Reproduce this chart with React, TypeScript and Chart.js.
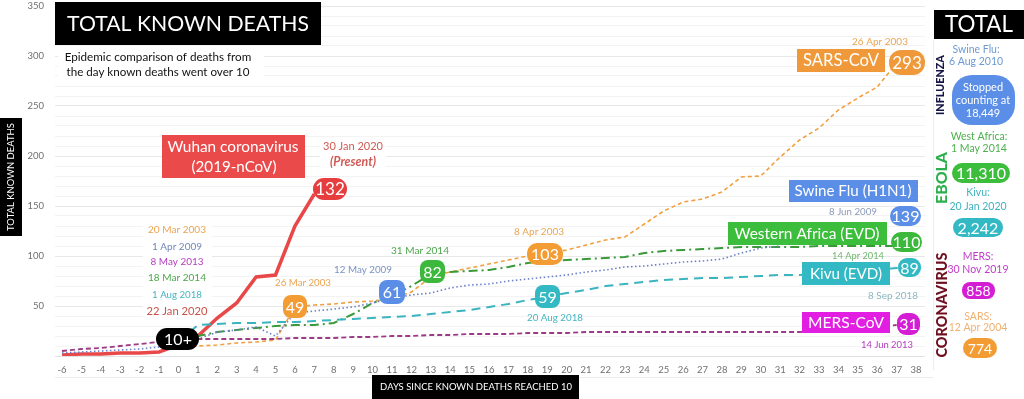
import React, { useEffect, useRef } from 'react';
import { Chart, registerables } from 'chart.js';
Chart.register(...registerables);

// ---- data ----
const dayTicks = [-6,-5,-4,-3,-2,-1,0,1,2,3,4,5,6,7,8,9,10,11,12,13,14,15,16,17,18,19,20,21,22,23,24,25,26,27,28,29,30,31,32,33,34,35,36,37,38];
const yGridValues = [0,10,20,30,40,50,60,70,80,90,100,110,120,130,140,150,160,170,180,190,200,210,220,230,240,250,260,270,280,290,300,310,320,330,340,350];
const yLabelValues = [50,100,150,200,250,300,350];

const wuhanDays = [-6,-5,-4,-3,-2,-1,0,1,2,3,4,5,6,7];
const wuhanDeaths = [1,2,2,3,3,4,11,20,38,53,79,81,130,162];

const sarsDays = [0,1,2,3,4,5,6,7,8,9,10,11,12,13,14,15,16,17,18,19,20,21,22,23,24,25,26,27,28,29,30,31,32,33,34,35,36,37];
const sarsDeaths = [8,10,11,13,14,16,49,51,52,54,55,57,64,79,84,88,92,96,100,103,106,111,116,119,132,145,154,157,164,179,180,199,216,228,246,258,269,293];

const swineDays = [-6,-5,-4,-3,-2,-1,0,1,2,3,4,5,6,7,8,9,10,11,12,13,14,15,16,17,18,19,20,21,22,23,24,25,26,27,28,29,30,31];
const swineDeaths = [3,4,5,6,7,9,12,17,24,26,29,20,43,45,47,49,53,58,61,63,68,71,72,75,77,79,81,84,86,89,90,92,94,95,97,103,108,110];

const mersDays = [-6,-5,-4,-3,-2,-1,0,1,2,3,4,5,6,7,8,9,10,11,12,13,14,15,16,17,18,19,20,21,22,23,24,25,26,27,28,29,30,31,32,33,34,35,36,37];
const mersDeaths = [5,7,8,10,12,14,17,17,17,17,17,17,18,18,18,19,19,20,20,21,21,22,22,22,23,23,23,24,24,24,24,24,24,24,24,24,24,24,24,25,27,28,29,31];

const westAfricaDays = [0,1,2,3,4,5,6,7,8,9,10,11,12,13,14,15,16,17,18,19,20,21,22,23,24,25,26,27,28,29,30,31,32,33,34,35,36,37];
const westAfricaDeaths = [14,20,24,26,28,30,31,31,33,42,53,60,70,82,84,85,86,89,93,95,96,97,98,99,103,105,106,107,108,109,109,109,109,110,110,110,110,110];

const kivuDays = [0,1,2,3,4,5,6,7,8,9,10,11,12,13,14,15,16,17,18,19,20,21,22,23,24,25,26,27,28,29,30,31,32,33,34,35,36,37,38];
const kivuDeaths = [14,31,32,33,33,34,34,35,36,37,38,39,40,42,44,46,49,52,56,59,63,66,70,72,74,76,77,78,78,79,80,81,81,83,84,85,86,88,89];

const pts = (xs: number[], ys: number[]) => xs.map((x, i) => ({ x, y: ys[i] }));

const FONT = 'Lato, "Open Sans", sans-serif';

function rr(ctx: CanvasRenderingContext2D, x: number, y: number, w: number, h: number, r: number, fill: string) {
  ctx.beginPath();
  const rad = Math.min(r, h / 2, w / 2);
  ctx.moveTo(x + rad, y);
  ctx.arcTo(x + w, y, x + w, y + h, rad);
  ctx.arcTo(x + w, y + h, x, y + h, rad);
  ctx.arcTo(x, y + h, x, y, rad);
  ctx.arcTo(x, y, x + w, y, rad);
  ctx.closePath();
  ctx.fillStyle = fill;
  ctx.fill();
}

function txt(ctx: CanvasRenderingContext2D, s: string, x: number, y: number, color: string, size: number, opts: { weight?: string; style?: string; align?: CanvasTextAlign; width?: number } = {}) {
  let sz = size;
  const font = (z: number) => `${opts.style || 'normal'} ${opts.weight || '400'} ${z}px ${FONT}`;
  ctx.font = font(sz);
  if (opts.width) {
    const w = ctx.measureText(s).width;
    sz = (size * opts.width) / w;
    ctx.font = font(sz);
  }
  ctx.fillStyle = color;
  ctx.textAlign = opts.align || 'center';
  ctx.textBaseline = 'middle';
  ctx.fillText(s, x, y);
}

function boxLabel(ctx: CanvasRenderingContext2D, x0: number, y0: number, x1: number, y1: number, r: number, fill: string, s: string, size: number, width?: number) {
  rr(ctx, x0, y0, x1 - x0, y1 - y0, r, fill);
  txt(ctx, s, (x0 + x1) / 2, (y0 + y1) / 2 + 1, '#ffffff', size, { width });
}

function vtxt(ctx: CanvasRenderingContext2D, s: string, cx: number, cy: number, color: string, size: number, weight: string, length?: number) {
  ctx.save();
  ctx.translate(cx, cy);
  ctx.rotate(-Math.PI / 2);
  txt(ctx, s, 0, 0, color, size, { weight, width: length });
  ctx.restore();
}

const overlay = {
  id: 'overlay',
  afterDraw(chart: any) {
    const ctx: CanvasRenderingContext2D = chart.ctx;
    ctx.save();
    // faint lines
    ctx.fillStyle = '#ececec';
    ctx.fillRect(55, 377, 878, 1);
    ctx.fillRect(933, 40, 1, 330);

    // title
    ctx.fillStyle = '#000';
    ctx.fillRect(55, 2, 266, 43);
    txt(ctx, 'TOTAL KNOWN DEATHS', 188, 24, '#fff', 27, { width: 242 });
    ctx.fillStyle = '#fff';
    ctx.fillRect(58, 48, 206, 33);
    txt(ctx, 'Epidemic comparison of deaths from', 158, 57, '#111', 12.5, { width: 187 });
    txt(ctx, 'the day known deaths went over 10', 158, 72, '#111', 12.5, { width: 183 });

    // axis titles
    ctx.fillStyle = '#000';
    ctx.fillRect(0, 118, 22, 118);
    vtxt(ctx, 'TOTAL KNOWN DEATHS', 11, 177, '#fff', 10, '400', 108);
    ctx.fillRect(372, 375, 207, 24);
    txt(ctx, 'DAYS SINCE KNOWN DEATHS REACHED 10', 476, 387, '#fff', 12, { width: 192 });

    // start-date stack
    ctx.fillStyle = '#fff';
    ctx.fillRect(143, 222, 69, 97);
    txt(ctx, '20 Mar 2003', 177, 230, '#eaa552', 11.5, { width: 58 });
    txt(ctx, '1 Apr 2009', 177, 247, '#7088b8', 11.5, { width: 50 });
    txt(ctx, '8 May 2013', 177, 262, '#b43cc0', 11.5, { width: 53 });
    txt(ctx, '18 Mar 2014', 177, 278, '#4ca64c', 11.5, { width: 58 });
    txt(ctx, '1 Aug 2018', 177, 295, '#44b6c2', 11.5, { width: 50 });
    txt(ctx, '22 Jan 2020', 177, 311, '#c8524a', 13, { width: 61 });

    rr(ctx, 156, 328, 43, 22, 11, '#000');
    txt(ctx, '10+', 178, 340, '#fff', 16);

    // Wuhan
    ctx.fillStyle = '#ea4a4a';
    ctx.fillRect(162, 135, 143, 43);
    txt(ctx, 'Wuhan coronavirus', 233, 147, '#fff', 16, { width: 131 });
    txt(ctx, '(2019-nCoV)', 234, 167, '#fff', 16, { width: 85 });
    ctx.fillStyle = '#fff';
    ctx.fillRect(320, 138, 66, 32);
    txt(ctx, '30 Jan 2020', 353, 146, '#d05a55', 11, { width: 60 });
    txt(ctx, '(Present)', 353, 162, '#d05a55', 11, { width: 46, weight: '700', style: 'italic' });
    boxLabel(ctx, 313, 178, 347, 200, 11, '#e63e3e', '132', 17);

    // inline labels
    txt(ctx, '26 Mar 2003', 303, 283, '#eaa552', 11.5, { width: 56 });
    boxLabel(ctx, 283, 295, 307, 318, 8, '#f39c34', '49', 16);
    txt(ctx, '12 May 2009', 363, 270, '#7a92c4', 11.5, { width: 58 });
    boxLabel(ctx, 379, 280, 405, 304, 8, '#5b8ee6', '61', 16);
    txt(ctx, '31 Mar 2014', 420, 251, '#4ca64c', 11.5, { width: 58 });
    boxLabel(ctx, 420, 260, 445, 283, 8, '#3cb83c', '82', 16);
    txt(ctx, '8 Apr 2003', 539, 232, '#eaa552', 11.5, { width: 50 });
    boxLabel(ctx, 527, 243, 563, 265, 10, '#f39c34', '103', 16);
    boxLabel(ctx, 535, 285, 560, 308, 8, '#33b9c4', '59', 16);
    txt(ctx, '20 Aug 2018', 555, 318, '#44b6c2', 11.5, { width: 56 });

    // right-end labels
    txt(ctx, '26 Apr 2003', 880, 42, '#eaa552', 11.5, { width: 56 });
    ctx.fillStyle = '#f0993a';
    ctx.fillRect(797, 49, 88, 23);
    txt(ctx, 'SARS-CoV', 841, 61, '#fff', 16, { width: 76 });
    boxLabel(ctx, 889, 50, 925, 75, 12, '#f0993a', '293', 17);

    ctx.fillStyle = '#5b8ee6';
    ctx.fillRect(789, 180, 129, 22);
    txt(ctx, 'Swine Flu (H1N1)', 853, 191, '#fff', 16, { width: 117 });
    txt(ctx, '8 Jun 2009', 853, 212, '#8a9ab8', 10.5, { width: 48 });
    boxLabel(ctx, 890, 206, 921, 226, 10, '#5b8ee6', '139', 16);

    ctx.fillStyle = '#3cbd3c';
    ctx.fillRect(728, 222, 159, 23);
    txt(ctx, 'Western Africa (EVD)', 807, 234, '#fff', 16, { width: 145 });
    boxLabel(ctx, 891, 232, 922, 252, 10, '#3cb83c', '110', 16);
    txt(ctx, '14 Apr 2014', 858, 256, '#6fb86f', 10.5, { width: 52 });

    ctx.fillStyle = '#33b9c4';
    ctx.fillRect(802, 262, 88, 23);
    txt(ctx, 'Kivu (EVD)', 846, 274, '#fff', 16, { width: 72 });
    boxLabel(ctx, 898, 258, 921, 277, 9, '#33b9c4', '89', 16);
    txt(ctx, '8 Sep 2018', 893, 296, '#8ab8c0', 10.5, { width: 50 });

    ctx.fillStyle = '#e31ee3';
    ctx.fillRect(802, 312, 88, 21);
    txt(ctx, 'MERS-CoV', 846, 323, '#fff', 16, { width: 76 });
    boxLabel(ctx, 897, 313, 920, 335, 9, '#d41ed4', '31', 16);
    txt(ctx, '14 Jun 2013', 887, 345, '#b43cc0', 10.5, { width: 52 });

    // right panel
    ctx.fillStyle = '#000';
    ctx.fillRect(934, 10, 90, 29);
    txt(ctx, 'TOTAL', 979, 25, '#fff', 24, { width: 68 });
    vtxt(ctx, 'INFLUENZA', 941, 85, '#141446', 13, '900', 60);
    vtxt(ctx, 'EBOLA', 942, 178, '#2cb04c', 15, '900', 52);
    vtxt(ctx, 'CORONAVIRUS', 942, 305, '#6e1020', 15, '900', 105);

    txt(ctx, 'Swine Flu:', 976, 50, '#6d9ad6', 10.5);
    txt(ctx, '6 Aug 2010', 976, 62, '#6d9ad6', 10.5);
    rr(ctx, 952, 75, 63, 50, 20, '#5b8ee6');
    txt(ctx, 'Stopped', 983, 87, '#fff', 11);
    txt(ctx, 'counting at', 983, 100, '#fff', 11);
    txt(ctx, '18,449', 983, 113, '#fff', 11);

    txt(ctx, 'West Africa:', 979, 137, '#4cb04c', 10.5);
    txt(ctx, '1 May 2014', 979, 149, '#4cb04c', 10.5);
    boxLabel(ctx, 952, 163, 1010, 183, 10, '#3cbd3c', '11,310', 16);

    txt(ctx, 'Kivu:', 978, 193, '#3fb3c0', 10.5);
    txt(ctx, '20 Jan 2020', 978, 207, '#3fb3c0', 10.5);
    boxLabel(ctx, 953, 218, 1003, 237, 10, '#33b9c4', '2,242', 16);

    txt(ctx, 'MERS:', 978, 257, '#c13cc8', 10.5);
    txt(ctx, '30 Nov 2019', 978, 270, '#c13cc8', 10.5);
    boxLabel(ctx, 962, 282, 995, 299, 8, '#d41ed4', '858', 14);

    txt(ctx, 'SARS:', 978, 317, '#f0b070', 10.5);
    txt(ctx, '12 Apr 2004', 978, 328, '#f0b070', 10.5);
    boxLabel(ctx, 963, 338, 997, 358, 10, '#f39c34', '774', 14);

    ctx.restore();
  },
};

export default function App() {
  const ref = useRef<HTMLCanvasElement>(null);
  useEffect(() => {
    document.body.style.margin = '0';
    const line = (label: string, xs: number[], ys: number[], color: string, width: number, dash: number[]) => ({
      label,
      data: pts(xs, ys),
      borderColor: color,
      backgroundColor: color,
      borderWidth: width,
      borderDash: dash,
      pointRadius: 0,
      tension: 0,
      fill: false,
    });
    const chart = new Chart(ref.current as HTMLCanvasElement, {
      type: 'line',
      data: {
        datasets: [
          line('MERS-CoV', mersDays, mersDeaths, '#9c3a86', 1.8, [5, 3]),
          line('Kivu (EVD)', kivuDays, kivuDeaths, '#3ab5c0', 2, [9, 6]),
          line('Swine Flu (H1N1)', swineDays, swineDeaths, '#6a7fc8', 1.6, [1.5, 2.5]),
          line('Western Africa (EVD)', westAfricaDays, westAfricaDeaths, '#3a9a3a', 2, [9, 4, 2, 4]),
          line('SARS-CoV', sarsDays, sarsDeaths, '#f0a040', 1.6, [4, 3]),
          line('Wuhan coronavirus', wuhanDays, wuhanDeaths, '#e84848', 3.5, []),
        ] as any,
      },
      options: {
        animation: false,
        responsive: false,
        maintainAspectRatio: false,
        layout: { padding: { left: 0, right: 99, top: 0, bottom: 0 } },
        plugins: { legend: { display: false }, tooltip: { enabled: false } },
        scales: {
          x: {
            type: 'linear',
            min: -6.36,
            max: 38.46,
            afterBuildTicks: (s: any) => {
              s.ticks = dayTicks.map((v) => ({ value: v }));
            },
            afterFit: (s: any) => {
              s.height = 43;
              s.paddingLeft = 0;
              s.paddingRight = 0;
            },
            grid: { display: false },
            border: { display: false },
            ticks: {
              autoSkip: false,
              maxRotation: 0,
              padding: 0,
              color: '#707070',
              font: { family: FONT, size: 9.5 },
              callback: (v: any) => String(v),
            },
          },
          y: {
            type: 'linear',
            min: 0,
            max: 356,
            afterBuildTicks: (s: any) => {
              s.ticks = yGridValues.map((v) => ({ value: v }));
            },
            afterFit: (s: any) => {
              s.width = 55;
              s.paddingTop = 0;
              s.paddingBottom = 0;
            },
            grid: {
              drawTicks: false,
              color: (c: any) => (c.tick && c.tick.value === 0 ? '#e2e2e2' : c.tick && c.tick.value % 50 === 0 ? '#e8e8e8' : '#f3f3f3'),
            },
            border: { display: false },
            ticks: {
              autoSkip: false,
              padding: 11,
              color: '#707070',
              font: { family: FONT, size: 9.5 },
              callback: (v: any) => (yLabelValues.includes(Number(v)) ? String(v) : ''),
            },
          },
        },
      } as any,
      plugins: [overlay],
    });
    return () => chart.destroy();
  }, []);
  return (
    <div style={{ width: 1024, height: 399, position: 'relative', background: '#fff' }}>
      <canvas ref={ref} width={1024} height={399} style={{ display: 'block', width: 1024, height: 399 }} />
    </div>
  );
}
